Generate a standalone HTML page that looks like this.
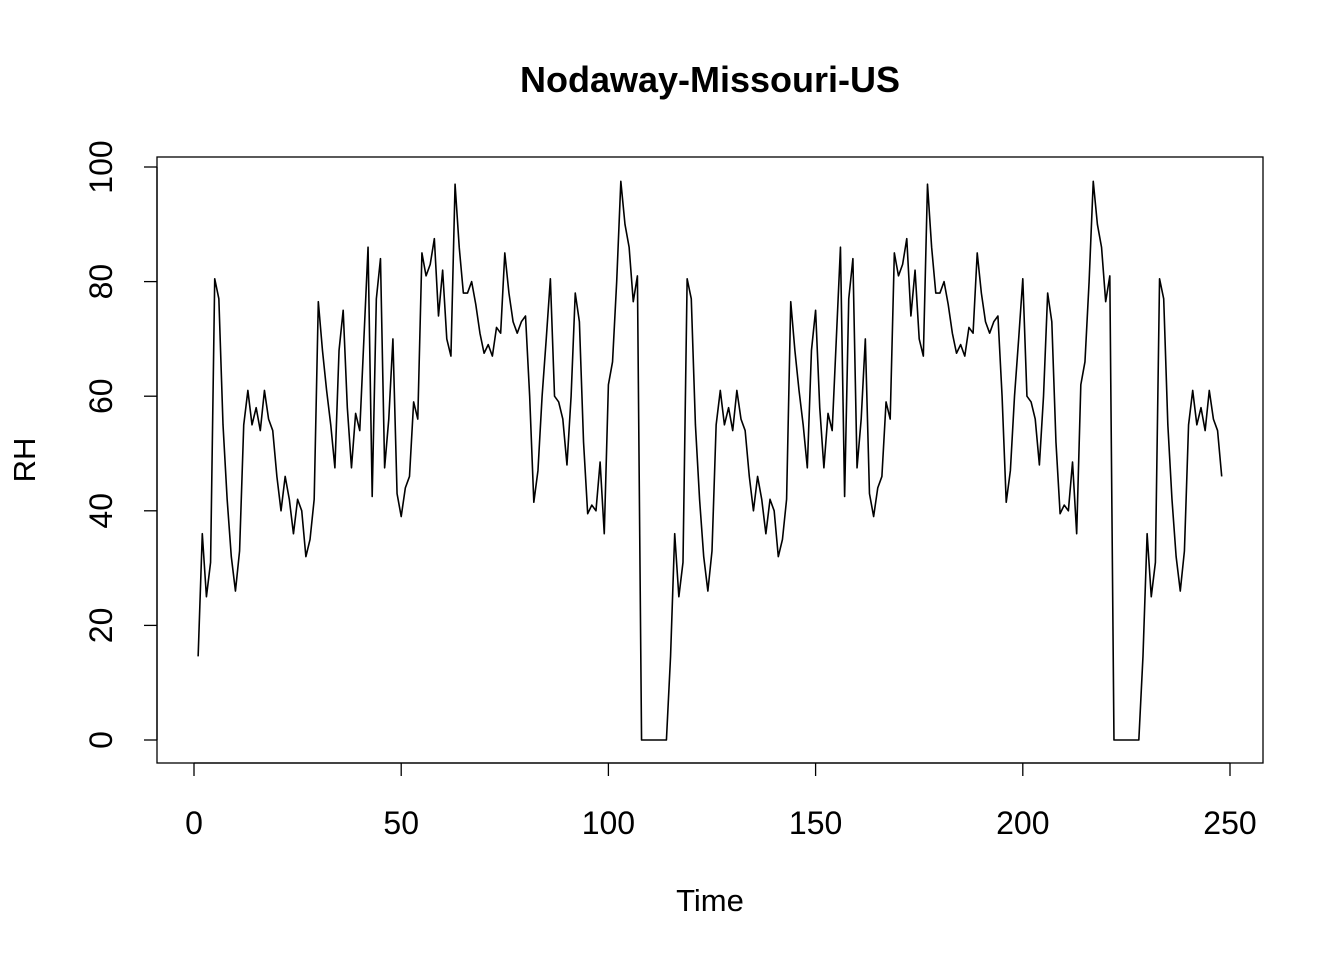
<!DOCTYPE html>
<html><head><meta charset="utf-8"><style>
body{margin:0;background:#fff;}
svg{display:block;font-family:"Liberation Sans",Arial,sans-serif;}
</style></head><body>
<svg id="chart" width="1344" height="960">
<rect width="1344" height="960" fill="#fff"/>
<text x="710" y="92" text-anchor="middle" font-size="36" font-weight="bold">Nodaway-Missouri-US</text>
<rect x="157" y="157" width="1106" height="606" fill="none" stroke="#000" stroke-width="1.3"/>
<text x="710" y="911" text-anchor="middle" font-size="31">Time</text>
<text transform="translate(35,460) rotate(-90)" text-anchor="middle" font-size="31">RH</text>
<g id="axes"></g>
<path id="line" fill="none" stroke="#000" stroke-width="1.6" stroke-linejoin="round"/>
</svg>
<script>
const periodValues=[14.6,36,25,31,80.5,77,55,42,32,26,33,55,61,55,58,54,61,56,54,46,40,46,42,36,42,40,32,35,42,76.5,68,61,55,47.5,68,75,58,47.5,57,54,70,86,42.5,77,84,47.5,56,70,43,39,44,46,59,56,85,81,83,87.5,74,82,70,67,97,86,78,78,80,76,71,67.5,69,67,72,71,85,78,73,71,73,74,60,41.5,47,60,70,80.5,60,59,56,48,60,78,73,52,39.5,41,40,48.5,36,62,66,80,97.5,90,86,76.5,81,0,0,0,0,0,0,0];
const seriesLength=248;
const xTicks=[0,50,100,150,200,250];
const yTicks=[0,20,40,60,80,100];
const values=[];
for(let i=0;i<seriesLength;i++)values.push(periodValues[i%periodValues.length]);
const xs=t=>194+(1230-194)*t/250;
const ys=v=>740-(740-167)*v/100;
const NS="http://www.w3.org/2000/svg";
const axes=document.getElementById('axes');
function mk(tag,attrs){const e=document.createElementNS(NS,tag);for(const k in attrs)e.setAttribute(k,attrs[k]);axes.appendChild(e);return e;}
mk('line',{x1:xs(0),x2:xs(250),y1:763,y2:763,stroke:'#000','stroke-width':1.3});
mk('line',{x1:157,x2:157,y1:ys(0),y2:ys(100),stroke:'#000','stroke-width':1.3});
xTicks.forEach(t=>{
  const l=mk('line',{x1:xs(t),x2:xs(t),y1:763,y2:776,stroke:'#000','stroke-width':1.3});
  
  
  const tx=mk('text',{x:xs(t),y:834,'text-anchor':'middle','font-size':32});
  tx.textContent=t;
  
  
});
yTicks.forEach(v=>{
  const l=mk('line',{x1:144,x2:157,y1:ys(v),y2:ys(v),stroke:'#000','stroke-width':1.3});
  
  
  const tx=mk('text',{transform:`translate(112,${ys(v)}) rotate(-90)`,'text-anchor':'middle','font-size':32});
  tx.textContent=v;
  
  
});
document.getElementById('line').setAttribute('d',values.map((v,i)=>(i?'L':'M')+xs(i+1).toFixed(2)+','+ys(v).toFixed(2)).join(''));
</script>
</body></html>
